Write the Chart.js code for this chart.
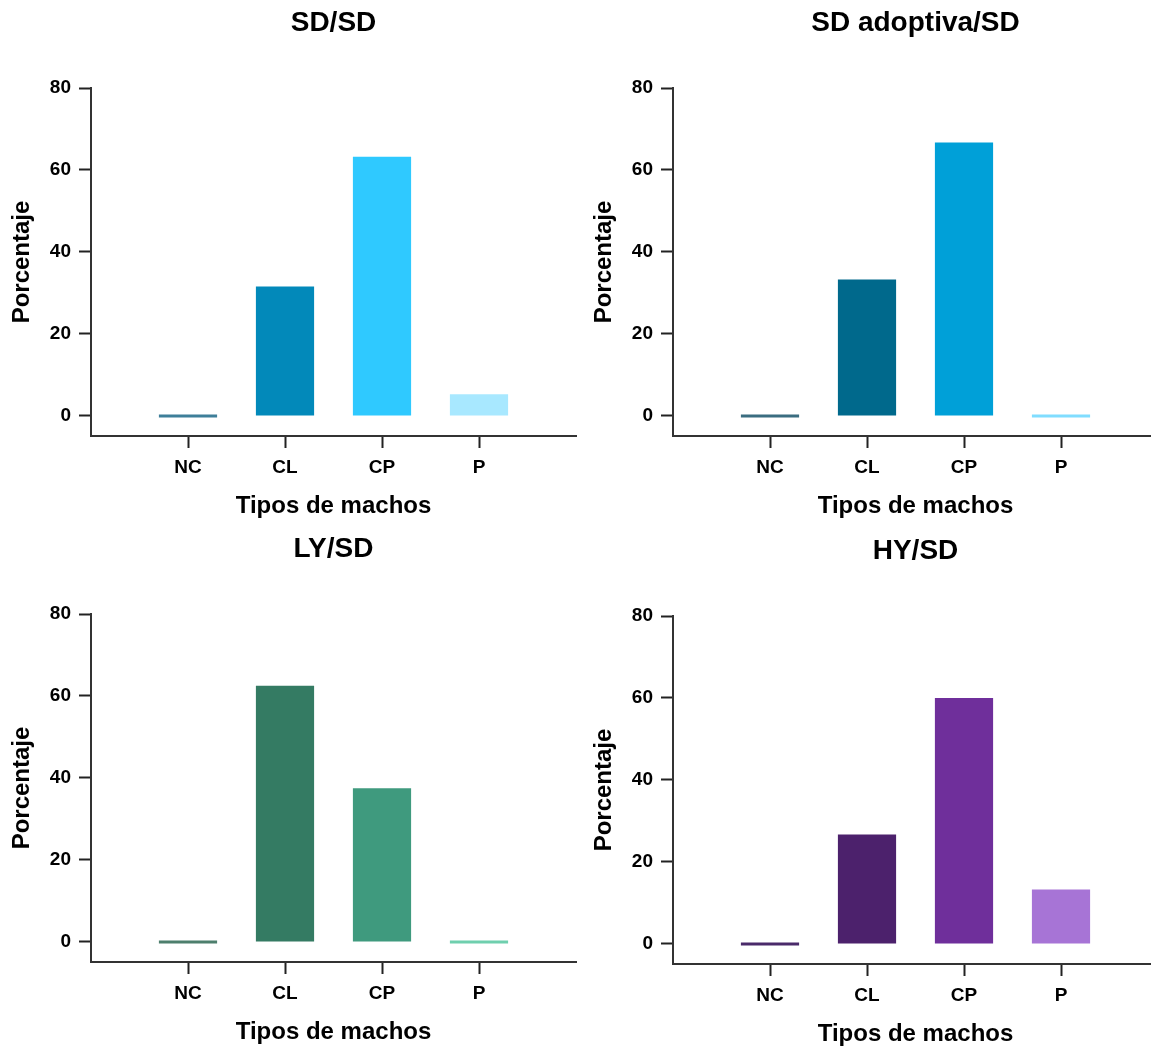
<!DOCTYPE html>
<html>
<head>
<meta charset="utf-8">
<script src="https://cdn.jsdelivr.net/npm/chart.js@4.4.1/dist/chart.umd.min.js"></script>
<style>
  html, body { margin: 0; padding: 0; background: #fff; overflow: hidden; }
  canvas { position: absolute; }
</style>
</head>
<body>
<canvas id="c1" width="580" height="526" style="left:0;top:0"></canvas>
<canvas id="c2" width="580" height="526" style="left:582px;top:0"></canvas>
<canvas id="c3" width="580" height="526" style="left:0;top:526px"></canvas>
<canvas id="c4" width="580" height="526" style="left:582px;top:528px"></canvas>
<script>
// datos
var categories = ["NC", "CL", "CP", "P"];
var yTicks = [0, 20, 40, 60, 80];

var sdSd = [0, 31.6, 63.2, 5.3];
var sdAdoptivaSd = [0, 33.3, 66.7, 0];
var lySd = [0, 62.5, 37.5, 0];
var hySd = [0, 26.7, 60.0, 13.3];

var coloresSd = ["#3e7f99", "#0289ba", "#2fc9ff", "#a8e8ff"];
var coloresAdoptiva = ["#3a6d80", "#00698c", "#00a0d8", "#80ddff"];
var coloresLy = ["#4d7f6d", "#347b63", "#3f9a7e", "#6fcfae"];
var coloresHy = ["#4a2a6a", "#4c216c", "#6f2f9b", "#a774d6"];

var fontFamily = "'Liberation Sans', Arial, sans-serif";

function drawPanel(id, titulo, valores, colores) {
  var ctx = document.getElementById(id).getContext("2d");
  return new Chart(ctx, {
    type: "bar",
    data: {
      datasets: [
        {
          label: titulo,
          data: valores.map(function (v, i) { return { x: i + 1, y: v }; }),
          backgroundColor: colores,
          borderWidth: 0,
          barPercentage: 0.6,
          categoryPercentage: 1,
          minBarLength: 3,
        },
      ],
    },
    options: {
      responsive: false,
      animation: false,
      layout: { padding: { top: 0, right: 4, bottom: 0, left: 0 } },
      plugins: {
        legend: { display: false },
        tooltip: { enabled: false },
        title: {
          display: true,
          text: titulo,
          fullSize: false,
          color: "#000",
          font: { family: fontFamily, size: 28, weight: "bold" },
          padding: { top: 6, bottom: 48.4 },
        },
      },
      scales: {
        x: {
          type: "linear",
          min: 0,
          max: 5,
          offset: false,
          afterBuildTicks: function (s) {
            s.ticks = categories.map(function (c, i) { return { value: i + 1 }; });
          },
          afterFit: function (s) { s.height = 90; },
          ticks: {
            callback: function (v) { return categories[v - 1]; },
            color: "#000",
            font: { family: fontFamily, size: 19, weight: "bold" },
            padding: 8.6,
            autoSkip: false,
            maxRotation: 0,
          },
          grid: { offset: false, drawOnChartArea: false, drawTicks: true, tickLength: 12, tickColor: "#222", tickWidth: 2 },
          border: { display: true, color: "#333", width: 2 },
          title: {
            display: true,
            text: "Tipos de machos",
            color: "#000",
            font: { family: fontFamily, size: 24, weight: "bold" },
            padding: { top: 0, bottom: 5.6 },
          },
        },
        y: {
          min: -4.9,
          max: 80,
          afterBuildTicks: function (s) {
            s.ticks = yTicks.map(function (v) { return { value: v }; });
          },
          afterFit: function (s) { s.width = 91; },
          ticks: {
            color: "#000",
            font: { family: fontFamily, size: 19, weight: "bold" },
            padding: 8,
          },
          grid: { drawOnChartArea: false, drawTicks: true, tickLength: 12, tickColor: "#222", tickWidth: 2 },
          border: { display: true, color: "#333", width: 2 },
          title: {
            display: true,
            text: "Porcentaje",
            color: "#000",
            font: { family: fontFamily, size: 24, weight: "bold" },
            padding: { top: 7.6, bottom: 0 },
          },
        },
      },
    },
  });
}

drawPanel("c1", "SD/SD", sdSd, coloresSd);
drawPanel("c2", "SD adoptiva/SD", sdAdoptivaSd, coloresAdoptiva);
drawPanel("c3", "LY/SD", lySd, coloresLy);
drawPanel("c4", "HY/SD", hySd, coloresHy);
</script>
</body>
</html>
